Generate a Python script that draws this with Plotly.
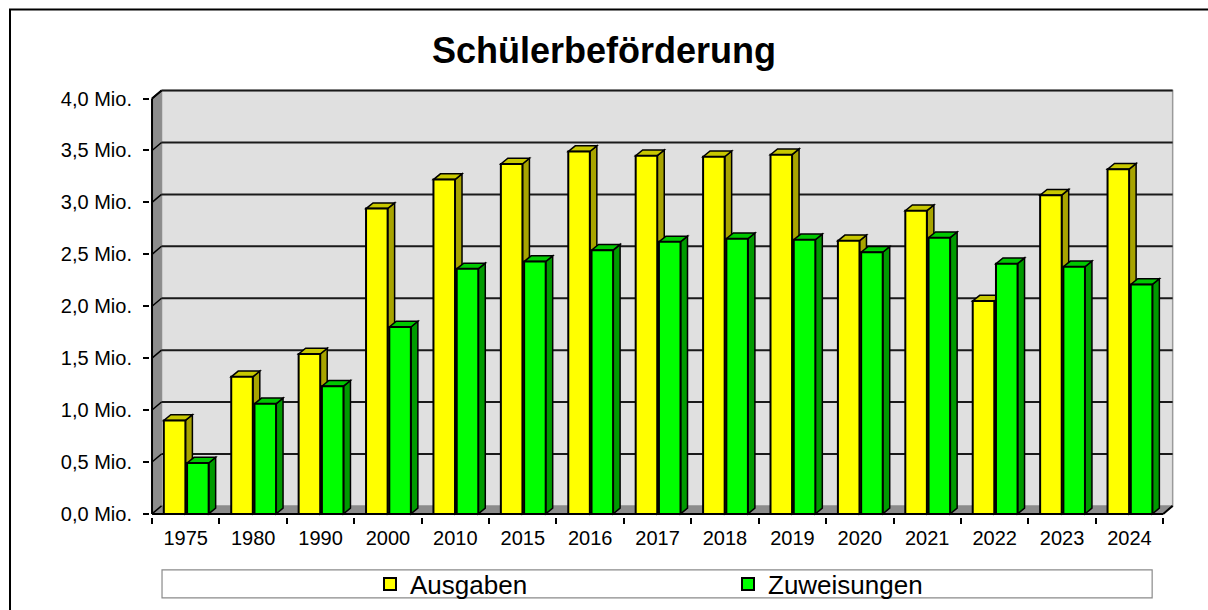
import plotly.graph_objects as go

# ---------------- data ----------------
years = ["1975", "1980", "1990", "2000", "2010", "2015", "2016", "2017",
         "2018", "2019", "2020", "2021", "2022", "2023", "2024"]
ausgaben = [0.90, 1.32, 1.54, 2.94, 3.22, 3.37, 3.49, 3.45,
            3.44, 3.46, 2.63, 2.92, 2.05, 3.07, 3.32]
zuweisungen = [0.49, 1.06, 1.23, 1.80, 2.36, 2.43, 2.54, 2.62,
               2.65, 2.64, 2.52, 2.66, 2.41, 2.38, 2.21]
y_ticks = [0.0, 0.5, 1.0, 1.5, 2.0, 2.5, 3.0, 3.5, 4.0]
y_tick_labels = ["0,0 Mio.", "0,5 Mio.", "1,0 Mio.", "1,5 Mio.", "2,0 Mio.",
                 "2,5 Mio.", "3,0 Mio.", "3,5 Mio.", "4,0 Mio."]

# ---------------- geometry / style ----------------
PAGE_OFF = 0                     # body margin removed by post_script below
W, H = 1208 - 2 * PAGE_OFF, 610 - 2 * PAGE_OFF
FONT = "Arial, 'Liberation Sans', sans-serif"


def sp(v):
    """screen pixel -> figure pixel"""
    return v - PAGE_OFF


X0PX, X1PX = sp(152), sp(1163)      # front left / right edge of the category axis
Y0PX, Y4PX = sp(514), sp(99)        # pixel of value 0 and of value 4
n = len(years)
ymax = y_ticks[-1]
sx = (X1PX - X0PX) / n
sy = (Y0PX - Y4PX) / ymax
wall_dx, wall_dy = 9.5 / sx, 8.0 / sy    # depth of walls
bar_dx, bar_dy = 7.0 / sx, 5.7 / sy      # depth of bars
barw = 0.32
off_a, off_z = -0.325, 0.02

xr = [-0.5 - 0.03, n - 0.5 + wall_dx + 0.02]
yr = [-0.03, ymax + wall_dy + 0.015]
left_px = X0PX + (xr[0] + 0.5) * sx
right_px = X0PX + (xr[1] + 0.5) * sx
top_px = Y0PX - yr[1] * sy
bot_px = Y0PX - yr[0] * sy
ml, mr, mt, mb = left_px, W - right_px, top_px, H - bot_px


def pxx(px):
    return (sp(px) - ml) / (W - ml - mr)


def pxy(py):
    return (H - mb - sp(py)) / (H - mt - mb)


def poly(pts):
    return "M " + " L ".join(f"{x},{y}" for x, y in pts) + " Z"


colors = {
    "Ausgaben": dict(front="#FFFF00", top="#C8C800", side="#A8A400"),
    "Zuweisungen": dict(front="#00FF00", top="#00C800", side="#009A00"),
}

shapes = []
# outer frame (cut at right/bottom edge like the reference)
shapes.append(dict(type="rect", xref="paper", yref="paper",
                   x0=pxx(10), y0=pxy(10), x1=pxx(1240), y1=pxy(640),
                   line=dict(color="black", width=2), fillcolor="rgba(0,0,0,0)",
                   layer="below"))
# legend box
shapes.append(dict(type="rect", xref="paper", yref="paper",
                   x0=pxx(162), y0=pxy(570), x1=pxx(1152), y1=pxy(598),
                   line=dict(color="#8a8a8a", width=1.2), fillcolor="white",
                   layer="below"))

xl, xrt = -0.5, n - 0.5
# back wall
shapes.append(dict(type="rect", xref="x", yref="y",
                   x0=xl + wall_dx, x1=xrt + wall_dx, y0=wall_dy, y1=ymax + wall_dy,
                   fillcolor="#E0E0E0", line=dict(color="#9a9a9a", width=1.5),
                   layer="below"))
# floor
shapes.append(dict(type="path", xref="x", yref="y",
                   path=poly([(xl, 0), (xrt, 0), (xrt + wall_dx, wall_dy), (xl + wall_dx, wall_dy)]),
                   fillcolor="#8C8C8C", line=dict(color="#8C8C8C", width=0.5), layer="below"))
# left wall
shapes.append(dict(type="path", xref="x", yref="y",
                   path=poly([(xl, 0), (xl, ymax), (xl + wall_dx, ymax + wall_dy), (xl + wall_dx, wall_dy)]),
                   fillcolor="#8C8C8C", line=dict(color="#8C8C8C", width=0.5), layer="below"))
# grid lines on back wall + connectors on the left wall
for v in y_ticks:
    if v > 0:
        shapes.append(dict(type="line", xref="x", yref="y",
                           x0=xl + wall_dx, x1=xrt + wall_dx, y0=v + wall_dy, y1=v + wall_dy,
                           line=dict(color="#1a1a1a", width=2), layer="below"))
    shapes.append(dict(type="line", xref="x", yref="y",
                       x0=xl, x1=xl + wall_dx, y0=v, y1=v + wall_dy,
                       line=dict(color="black", width=1.5), layer="below"))

# 3D faces of the bars
for name, vals, off in (("Ausgaben", ausgaben, off_a), ("Zuweisungen", zuweisungen, off_z)):
    c = colors[name]
    for i, v in enumerate(vals):
        x_left = i + off
        x_right = x_left + barw
        side = [(x_right, 0), (x_right, v), (x_right + bar_dx, v + bar_dy), (x_right + bar_dx, bar_dy)]
        top = [(x_left, v), (x_right, v), (x_right + bar_dx, v + bar_dy), (x_left + bar_dx, v + bar_dy)]
        shapes.append(dict(type="path", xref="x", yref="y", path=poly(side),
                           fillcolor=c["side"], line=dict(color="black", width=1.5), layer="below"))
        shapes.append(dict(type="path", xref="x", yref="y", path=poly(top),
                           fillcolor=c["top"], line=dict(color="black", width=1.5), layer="below"))

# front axis edges
shapes.append(dict(type="line", xref="x", yref="y", x0=xl, x1=xl, y0=0, y1=ymax,
                   line=dict(color="black", width=2), layer="above"))
shapes.append(dict(type="line", xref="x", yref="y", x0=xl, x1=xl + wall_dx, y0=ymax, y1=ymax + wall_dy,
                   line=dict(color="black", width=2), layer="above"))
shapes.append(dict(type="line", xref="x", yref="y", x0=xl, x1=xrt, y0=0, y1=0,
                   line=dict(color="black", width=2), layer="above"))
shapes.append(dict(type="line", xref="x", yref="y", x0=xrt, x1=xrt + wall_dx, y0=0, y1=wall_dy,
                   line=dict(color="black", width=2), layer="above"))

fig = go.Figure()
for name, vals, off in (("Ausgaben", ausgaben, off_a), ("Zuweisungen", zuweisungen, off_z)):
    fig.add_trace(go.Bar(
        x=list(range(n)), y=vals, name=name, width=barw, offset=off,
        marker=dict(color=colors[name]["front"], line=dict(color="black", width=2)),
        hovertemplate="%{text}: %{y:.2f} Mio.<extra>" + name + "</extra>",
        text=years, textposition="none",
    ))

fig.update_layout(
    width=W, height=H, autosize=False,
    margin=dict(l=ml, r=mr, t=mt, b=mb, pad=0, autoexpand=False),
    paper_bgcolor="white", plot_bgcolor="rgba(0,0,0,0)",
    barmode="overlay",
    font=dict(family=FONT, color="black", size=20),
    title=dict(text="<b>Schülerbeförderung</b>", x=0.5, xanchor="center",
               y=1 - sp(50) / H, yanchor="middle", yref="container",
               font=dict(family=FONT, size=36, color="black")),
    showlegend=True,
    legend=dict(orientation="h", xref="container", yref="container",
                x=sp(370) / W, xanchor="left", y=1 - sp(584) / H, yanchor="middle",
                bgcolor="rgba(0,0,0,0)", borderwidth=0, entrywidth=313, entrywidthmode="pixels",
                font=dict(family=FONT, size=26, color="black"), tracegroupgap=0),
    shapes=shapes,
)
fig.update_xaxes(
    type="linear", range=xr, tickmode="array", tickvals=list(range(n)), ticktext=years,
    ticks="", showgrid=False, zeroline=False, showline=False, ticklabelstandoff=7,
    tickfont=dict(family=FONT, size=20, color="black"),
    minor=dict(tickvals=[i - 0.5 for i in range(n + 1)], ticks="outside", ticklen=6,
               tickwidth=1.5, tickcolor="black", showgrid=False),
    fixedrange=True, automargin=False,
)
fig.update_yaxes(
    range=yr, tickmode="array", tickvals=y_ticks, ticktext=y_tick_labels,
    ticks="outside", ticklen=6, tickwidth=1.5, tickcolor="black",
    showgrid=False, zeroline=False, showline=False, ticklabelstandoff=7,
    tickfont=dict(family=FONT, size=20, color="black"), fixedrange=True, automargin=False,
)

fig.write_html(
    "out.html",
    config={"displayModeBar": False},
    post_script="document.body.style.margin='0';document.body.style.overflow='hidden';",
)
